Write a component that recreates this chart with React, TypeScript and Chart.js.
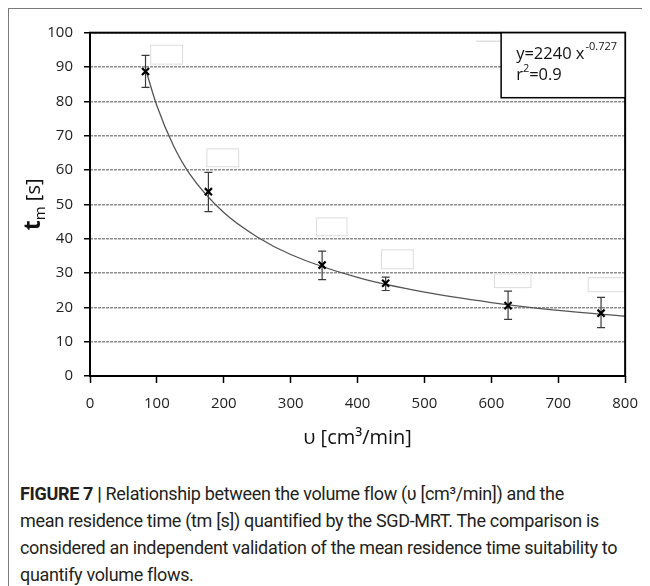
import React, { useEffect, useRef } from "react";
import { Chart, registerables } from "chart.js";

Chart.register(...registerables);

// ---- data ----
const flowValues = [83, 177, 347, 442, 625, 764]; // υ [cm³/min]
const residenceTimes = [88.7, 53.7, 32.3, 27.0, 20.5, 18.3]; // t_m [s]
const errorUpper = [93.4, 59.3, 36.4, 28.8, 24.7, 22.9];
const errorLower = [84.1, 47.9, 28.1, 24.9, 16.5, 14.1];

// power-law trend line
const trendFlow = [83, 100, 125, 150, 200, 250, 300, 400, 500, 600, 700, 800];
const trendTime = [89.5, 78.7, 67.0, 58.6, 47.6, 40.5, 35.4, 28.7, 24.4, 21.4, 19.1, 17.4];

// empty data-label boxes left in the figure: [x0, x1, yTop, yBottom] in data units
const emptyLabelBoxes = [
  [90, 139, 96.5, 90.7],
  [174, 223, 66.3, 60.8],
  [338, 385, 46.2, 40.7],
  [435, 484, 36.9, 31.1],
  [604, 660, 29.9, 25.6],
  [744, 800, 28.8, 24.4],
];

const xMin = 0;
const xMax = 800;
const xStep = 100;
const yMin = 0;
const yMax = 100;
const yStep = 10;

const fitEquationBase = "y=2240 x";
const fitEquationExponent = "-0.727";
const fitR2Base = "r";
const fitR2Exp = "2";
const fitR2Value = "=0.9";

const xTitle = "υ [cm³/min]";
const yTitleMain = "t";
const yTitleSub = "m";
const yTitleRest = " [s]";

const captionLines = [
  "Relationship between the volume flow (υ [cm³/min]) and the",
  "mean residence time (tm [s]) quantified by the SGD-MRT. The comparison is",
  "considered an independent validation of the mean residence time suitability to",
  "quantify volume flows.",
];
const captionLabel = "FIGURE 7 |";

const FONT = '"Open Sans", "DejaVu Sans", sans-serif';

const overlayPlugin = {
  id: "overlay",
  beforeDatasetsDraw(chart: any) {
    const { ctx, scales } = chart;
    const x = scales.x;
    const y = scales.y;
    ctx.save();
    emptyLabelBoxes.forEach(([x0, x1, y0, y1]) => {
      const px0 = x.getPixelForValue(x0);
      const px1 = x.getPixelForValue(x1);
      const py0 = y.getPixelForValue(y0);
      const py1 = y.getPixelForValue(y1);
      ctx.fillStyle = "#ffffff";
      ctx.fillRect(px0, py0, px1 - px0, py1 - py0);
      ctx.strokeStyle = "#dcdcdc";
      ctx.lineWidth = 1;
      ctx.strokeRect(px0 + 0.5, py0 + 0.5, px1 - px0 - 1, py1 - py0 - 1);
    });
    ctx.strokeStyle = "#3a3a3a";
    ctx.lineWidth = 1.2;
    flowValues.forEach((fv, i) => {
      const px = x.getPixelForValue(fv);
      const pt = y.getPixelForValue(errorUpper[i]);
      const pb = y.getPixelForValue(errorLower[i]);
      ctx.beginPath();
      ctx.moveTo(px, pt);
      ctx.lineTo(px, pb);
      ctx.moveTo(px - 4, pt);
      ctx.lineTo(px + 4, pt);
      ctx.moveTo(px - 4, pb);
      ctx.lineTo(px + 4, pb);
      ctx.stroke();
    });
    ctx.restore();
  },
  afterDraw(chart: any) {
    const { ctx, chartArea } = chart;
    const { left, right, top, bottom } = chartArea;
    ctx.save();
    ctx.strokeStyle = "#000";
    ctx.lineWidth = 2;
    ctx.strokeRect(left, top, right - left, bottom - top);

    const bw = 124;
    const bh = 65;
    const bx = right - bw;
    const by = top;
    ctx.strokeStyle = "#cfcfcf";
    ctx.lineWidth = 1;
    ctx.beginPath();
    ctx.moveTo(bx - 25, top + 8.5);
    ctx.lineTo(right - 5, top + 8.5);
    ctx.stroke();
    ctx.fillStyle = "#fff";
    ctx.fillRect(bx, by, bw, bh);
    ctx.strokeStyle = "#000";
    ctx.lineWidth = 1.5;
    ctx.strokeRect(bx, by, bw, bh);

    ctx.fillStyle = "#111";
    ctx.textBaseline = "alphabetic";
    ctx.textAlign = "left";
    const tx = bx + 15;
    ctx.font = `16.5px ${FONT}`;
    ctx.fillText(fitEquationBase, tx, by + 26);
    const w1 = ctx.measureText(fitEquationBase).width;
    ctx.font = `11px ${FONT}`;
    ctx.fillText(fitEquationExponent, tx + w1 + 1, by + 17);
    ctx.font = `16.5px ${FONT}`;
    ctx.fillText(fitR2Base, tx, by + 47);
    const w2 = ctx.measureText(fitR2Base).width;
    ctx.font = `11px ${FONT}`;
    ctx.fillText(fitR2Exp, tx + w2, by + 39);
    const w3 = ctx.measureText(fitR2Exp).width;
    ctx.font = `16.5px ${FONT}`;
    ctx.fillText(fitR2Value, tx + w2 + w3, by + 47);

    ctx.fillStyle = "#111";
    ctx.font = `20px ${FONT}`;
    ctx.textAlign = "center";
    ctx.textBaseline = "middle";
    ctx.fillText(xTitle, (left + right) / 2, bottom + 62);

    const cx = left - 56;
    const cy = (top + bottom) / 2;
    ctx.translate(cx, cy);
    ctx.rotate(-Math.PI / 2);
    ctx.textAlign = "left";
    ctx.textBaseline = "alphabetic";
    const fMain = `bold 23px ${FONT}`;
    const fSub = `15px ${FONT}`;
    const fRest = `20px ${FONT}`;
    ctx.font = fMain;
    const wt = ctx.measureText(yTitleMain).width;
    ctx.font = fSub;
    const wm = ctx.measureText(yTitleSub).width;
    ctx.font = fRest;
    const wr = ctx.measureText(yTitleRest).width;
    let sx = -(wt + wm + wr) / 2;
    ctx.font = fMain;
    ctx.fillText(yTitleMain, sx, 6);
    sx += wt;
    ctx.font = fSub;
    ctx.fillText(yTitleSub, sx, 11);
    sx += wm;
    ctx.font = fRest;
    ctx.fillText(yTitleRest, sx, 6);
    ctx.restore();
  },
};

export default function App() {
  const canvasRef = useRef<HTMLCanvasElement | null>(null);

  useEffect(() => {
    document.documentElement.style.overflow = "hidden";
    document.body.style.overflow = "hidden";
    const canvas = canvasRef.current;
    if (!canvas) return;
    const H = 462;
    const chart = new Chart(canvas, {
      type: "scatter",
      data: {
        datasets: [
          {
            type: "line",
            data: trendFlow.map((v, i) => ({ x: v, y: trendTime[i] })),
            borderColor: "#555555",
            borderWidth: 1.3,
            pointRadius: 0,
            cubicInterpolationMode: "monotone",
            fill: false,
            order: 2,
          } as any,
          {
            type: "scatter",
            data: flowValues.map((v, i) => ({ x: v, y: residenceTimes[i] })),
            pointStyle: "crossRot",
            pointRadius: 5,
            borderColor: "#000000",
            backgroundColor: "#000000",
            borderWidth: 2.2,
            order: 1,
          } as any,
        ],
      },
      options: {
        animation: false,
        responsive: false,
        devicePixelRatio: 1,
        layout: { padding: { left: 0, top: 23.7, right: 18, bottom: 0 } },
        plugins: {
          legend: { display: false },
          tooltip: { enabled: false },
          title: { display: false },
        },
        scales: {
          x: {
            type: "linear",
            min: xMin,
            max: xMax,
            afterFit: (s: any) => {
              s.height = H - 367;
            },
            ticks: {
              stepSize: xStep,
              color: "#222",
              font: { family: FONT, size: 15 },
              padding: 12,
              maxRotation: 0,
            },
            grid: {
              drawOnChartArea: false,
              drawTicks: true,
              tickLength: 7,
              tickColor: "#000",
              tickWidth: 1.5,
            },
            border: { display: false },
          },
          y: {
            type: "linear",
            min: yMin,
            max: yMax,
            afterFit: (s: any) => {
              s.width = 81;
            },
            ticks: {
              stepSize: yStep,
              color: "#222",
              font: { family: FONT, size: 15 },
              padding: 11,
            },
            grid: {
              color: "#8c8c8c",
              lineWidth: 1.5,
              drawTicks: true,
              tickLength: 6,
              tickColor: "#000",
              tickWidth: 1.5,
              tickBorderDash: [],
            },
            border: { display: false, dash: [3, 1] },
          },
        },
      } as any,
      plugins: [overlayPlugin],
    });
    return () => chart.destroy();
  }, []);

  return (
    <div
      style={{
        position: "relative",
        borderLeft: "1px solid #7a7a7a",
        borderTop: "1px solid #7a7a7a",
        height: 620,
        overflow: "hidden",
      }}
    >
      <canvas ref={canvasRef} width={641} height={462} style={{ display: "block" }} />
      <div
        style={{
          position: "absolute",
          left: 11,
          top: 471,
          fontFamily: 'Roboto, "Liberation Sans", sans-serif',
          fontSize: 18,
          lineHeight: "27px",
          letterSpacing: "-0.33px",
          color: "#231f20",
          whiteSpace: "nowrap",
        }}
      >
        {captionLines.map((line, i) => (
          <div key={i}>
            {i === 0 ? <b style={{ fontWeight: 700 }}>{captionLabel} </b> : null}
            {line}
          </div>
        ))}
      </div>
    </div>
  );
}
